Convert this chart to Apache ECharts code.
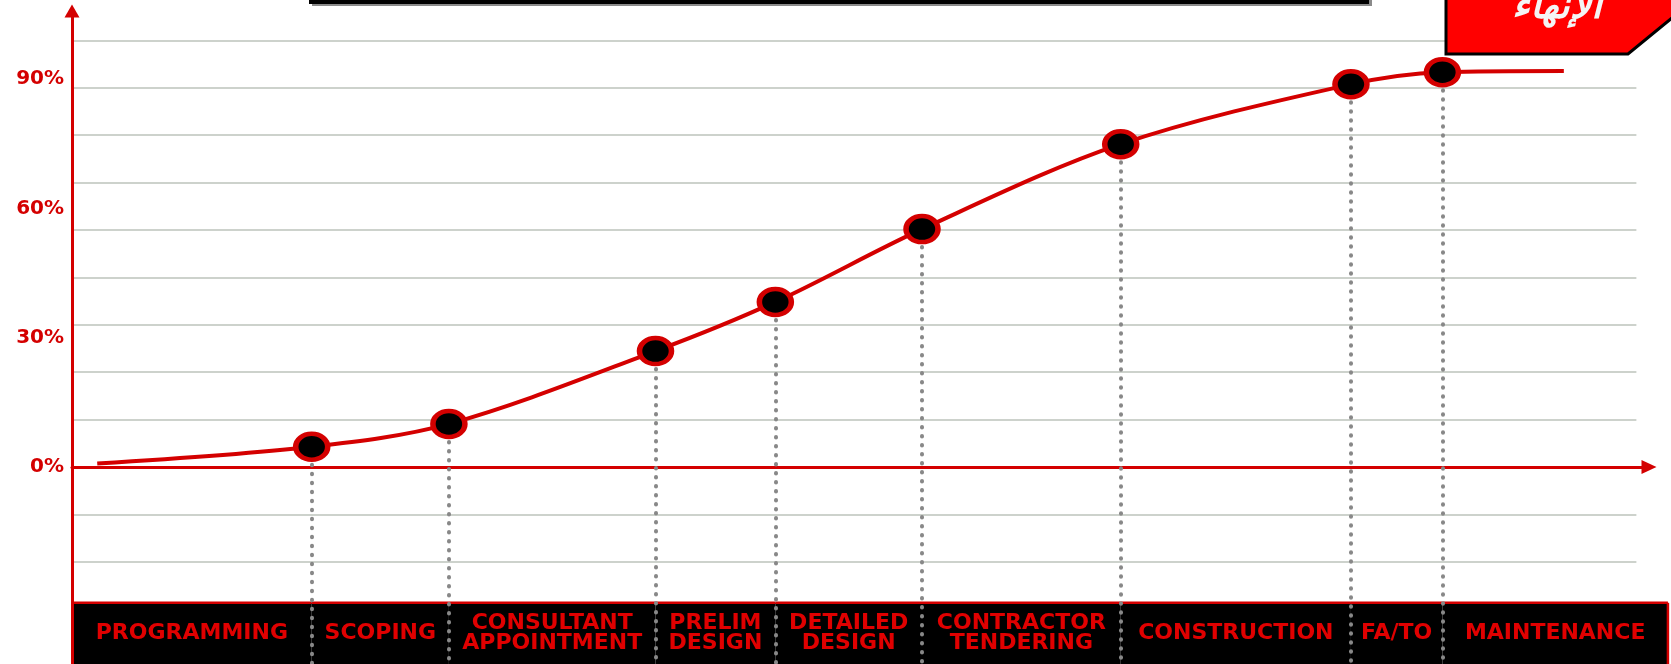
<!DOCTYPE html>
<html><head><meta charset="utf-8">
<script src="https://cdn.jsdelivr.net/npm/echarts@6/dist/echarts.min.js"></script>
<style>html,body{margin:0;padding:0;background:#fff;overflow:hidden}#c{width:1671px;height:664px}</style>
</head><body><div id="c"></div>
<script>
// ---- data ----
const phaseNames = ['PROGRAMMING','SCOPING','CONSULTANT\nAPPOINTMENT','PRELIM\nDESIGN','DETAILED\nDESIGN','CONTRACTOR\nTENDERING','CONSTRUCTION','FA/TO','MAINTENANCE'];
const milestoneX = [15.2, 23.9, 37.0, 44.6, 53.9, 66.5, 81.1, 86.9];   // timeline position of each phase end
const progress   = [4.7, 10.0, 26.9, 38.3, 55.2, 74.9, 88.8, 91.6];   // cumulative % at each phase end
const curveStart = [1.6, 0.8];
const curveEnd   = [94.6, 91.9];
const timelineEnd = 101.2;
const yTickLabels = [0, 30, 60, 90];
const gridValues = [-22, -11, 11, 22, 33, 44, 55, 66, 77, 88, 99];
const gridEndX = 99.2;
const bandTop = -31.5;
const yMin = -45.7, yMax = 105.8;
const badgeText = 'الإنهاء';

// ---- chart ----
const RED = '#d40000';
const chart = echarts.init(document.getElementById('c'), null, {renderer: 'canvas'});
const phaseStarts = [0].concat(milestoneX);
const phaseEnds = milestoneX.concat([timelineEnd]);
const bandData = phaseNames.map((n, i) => [phaseStarts[i], phaseEnds[i], i]);
const curveData = [curveStart].concat(milestoneX.map((x, i) => [x, progress[i]])).concat([curveEnd]);
const pointData = milestoneX.map((x, i) => [x, progress[i]]);

chart.setOption({
  animation: false,
  backgroundColor: '#fff',
  grid: {left: 72, right: 22, top: 11, bottom: 0, containLabel: false},
  xAxis: {
    type: 'value', min: 0, max: 100,
    axisLine: {show: true, onZero: true, symbol: ['none', 'triangle'], symbolSize: [14, 15],
      lineStyle: {color: RED, width: 3}},
    axisTick: {show: false}, axisLabel: {show: false}, splitLine: {show: false}
  },
  yAxis: {
    type: 'value', min: yMin, max: yMax, z: 10,
    axisLine: {show: true, symbol: ['none', 'triangle'], symbolSize: [15, 13],
      lineStyle: {color: RED, width: 3}},
    axisTick: {show: false},
    splitLine: {show: false},
    axisLabel: {customValues: yTickLabels, formatter: '{value}%', color: RED,
      fontFamily: 'DejaVu Sans', fontWeight: 'bold', fontSize: 20, margin: 8}
  },
  series: [
    {
      type: 'custom', z: 2, clip: false, silent: true,
      data: bandData,
      renderItem: function (params, api) {
        const i = api.value(2);
        const p0 = api.coord([api.value(0), bandTop]);
        const p1 = api.coord([api.value(1), yMin]);
        const children = [
          {type: 'rect', shape: {x: p0[0], y: p0[1], width: p1[0] - p0[0], height: p1[1] - p0[1] + 2},
            style: {fill: '#000'}},
          {type: 'line', shape: {x1: p0[0], y1: p0[1], x2: p1[0], y2: p0[1]},
            style: {stroke: RED, lineWidth: 2.5}},
          {type: 'text', x: (p0[0] + p1[0]) / 2, y: (p0[1] + p1[1]) / 2,
            style: {text: phaseNames[i], fill: '#e00000', fontFamily: 'DejaVu Sans', fontWeight: 'bold',
              fontSize: 22, lineHeight: 20, align: 'center', verticalAlign: 'middle'}}
        ];
        if (i === phaseNames.length - 1) {
          children.push({type: 'line', shape: {x1: p1[0], y1: p0[1], x2: p1[0], y2: p1[1] + 2},
            style: {stroke: RED, lineWidth: 2.5}});
        }
        return {type: 'group', children: children};
      },
      markLine: {
        silent: true, symbol: ['none', 'none'], z: 1, label: {show: false},
        lineStyle: {color: '#bcc3bb', width: 1.5, type: 'solid'},
        data: gridValues.map(v => [{coord: [0, v]}, {coord: [gridEndX, v]}])
      }
    },
    {
      type: 'line', z: 3, smooth: 0.33, showSymbol: false, silent: true,
      data: curveData,
      lineStyle: {color: RED, width: 4}
    },
    {
      type: 'scatter', z: 6, silent: true,
      data: pointData,
      symbol: 'circle', symbolSize: [32, 26],
      itemStyle: {color: '#000', borderColor: RED, borderWidth: 5, opacity: 1},
      markLine: {
        silent: true, symbol: ['none', 'none'], z: 4, label: {show: false},
        lineStyle: {color: '#888', width: 4, type: [0.5, 8.5], cap: 'round'},
        data: pointData.map(p => [{coord: [p[0], p[1]]}, {coord: [p[0], yMin]}])
      }
    }
  ],
  graphic: [
    {type: 'rect', z: 100, shape: {x: 312, y: -20, width: 1060, height: 26}, style: {fill: '#8a8a8a'}},
    {type: 'rect', z: 101, shape: {x: 309, y: -20, width: 1060, height: 24}, style: {fill: '#000'}},
    {type: 'polygon', z: 100, shape: {points: [[1446, -5], [1678, -5], [1678, 13], [1628, 54], [1446, 54]]},
      style: {fill: '#ff0000', stroke: '#000', lineWidth: 3}},
    {type: 'text', z: 101, x: 1557, y: 8,
      style: {text: badgeText, fill: '#f4f4f4', fontFamily: 'DejaVu Sans', fontWeight: 'bold', fontStyle: 'italic',
        fontSize: 38, align: 'center', verticalAlign: 'middle'}}
  ]
});
</script>
</body></html>
